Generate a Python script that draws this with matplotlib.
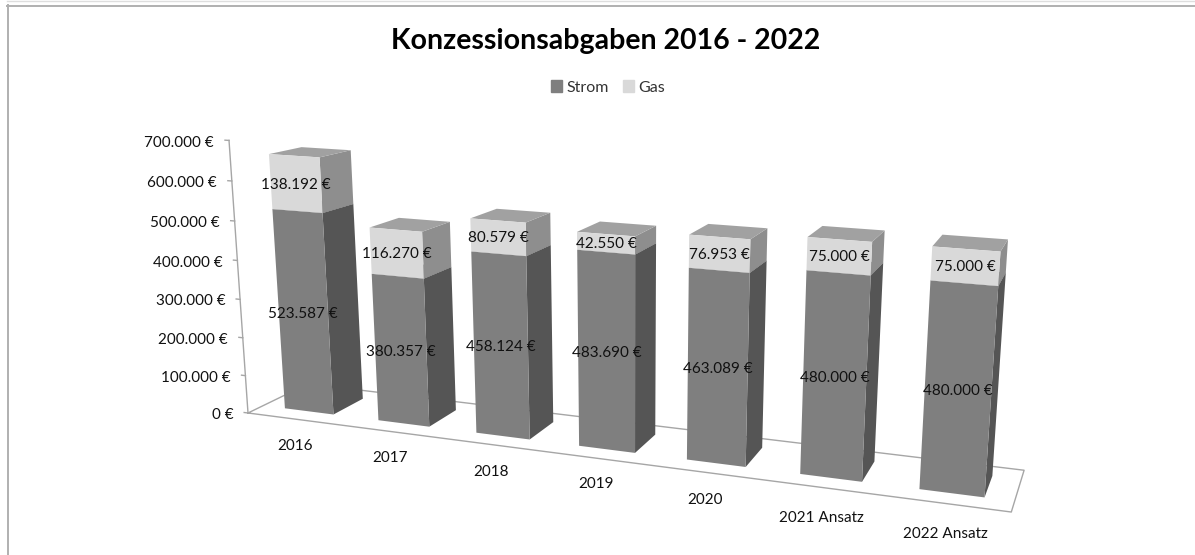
import numpy as np
import matplotlib
matplotlib.use('Agg')
import matplotlib.pyplot as plt
from matplotlib.patches import Patch

plt.rcParams['font.family'] = ['Lato', 'DejaVu Sans']

# Values
categories = ['2016', '2017', '2018', '2019', '2020', '2021 Ansatz', '2022 Ansatz']
strom = [523587, 380357, 458124, 483690, 463089, 480000, 480000]
gas = [138192, 116270, 80579, 42550, 76953, 75000, 75000]
y_ticks = [0, 100000, 200000, 300000, 400000, 500000, 600000, 700000]
y_max = 700000

# Excel puts the category labels a bit unevenly, so they get their own pixel spots
cat_label_xy = [(295, 446.5), (390, 457.5), (491, 471.5), (596, 484.5), (705, 499.5), (821, 517.5), (945, 533.5)]

# Camera for the fake 3D: u along categories, v up (value / y_max), w into depth.
CAMERA = np.array([
    [601.5, -29.77, 81.2, 248.0],
    [17.1, -279.2, -2.75, 413.0],
    [-0.16, -0.0471, 0.0688, 1.0],
])

BAR_WIDTH = 0.075   # share of the u range
BAR_FRONT = 0.243
BAR_BACK = 0.764

GAS_COLORS = {'front': '#d9d9d9', 'side': '#8e8e8e', 'top': '#a1a1a1'}
STROM_COLORS = {'front': '#7f7f7f', 'side': '#555555', 'top': '#6a6a6a'}
LINE_COLOR = '#a6a6a6'
TEXT_COLOR = '#111111'
LABEL_SIZE = 11


def project(u, value, w):
    p = CAMERA @ np.array([u, value / y_max, w, 1.0])
    return p[0] / p[2], p[1] / p[2]


def euro(value):
    return f'{value:,.0f} €'.replace(',', '.')


def draw_block(ax, u0, u1, low, high, colors):
    front = [project(u0, low, BAR_FRONT), project(u1, low, BAR_FRONT),
             project(u1, high, BAR_FRONT), project(u0, high, BAR_FRONT)]
    side = [project(u1, low, BAR_FRONT), project(u1, low, BAR_BACK),
            project(u1, high, BAR_BACK), project(u1, high, BAR_FRONT)]
    top = [project(u0, high, BAR_FRONT), project(u1, high, BAR_FRONT),
           project(u1, high, BAR_BACK), project(u0, high, BAR_BACK)]
    ax.fill(*zip(*side), color=colors['side'], lw=0, zorder=3)
    ax.fill(*zip(*top), color=colors['top'], lw=0, zorder=3)
    ax.fill(*zip(*front), color=colors['front'], lw=0, zorder=3)


def label_block(ax, uc, low, high, text):
    x, y = project(uc, (low + high) / 2, BAR_FRONT)
    ax.text(x, y + 1, text, ha='center', va='center', fontsize=LABEL_SIZE, color=TEXT_COLOR, zorder=5)


fig = plt.figure(figsize=(11.95, 5.55), dpi=100)
ax = fig.add_axes([0, 0, 1, 1])
ax.set_xlim(0, 1195)
ax.set_ylim(555, 0)
ax.axis('off')

# Screenshot frame
ax.plot([7, 1195], [0.5, 0.5], color='#dedede', lw=1)
ax.plot([7, 1195], [6, 6], color='#b0b0b0', lw=1.4)
ax.plot([8, 8], [5, 555], color='#b0b0b0', lw=1.4)

# Floor outline
corners = [project(0, 0, 0), project(1, 0, 0), project(1, 0, 1), project(0, 0, 1), project(0, 0, 0)]
ax.plot(*zip(*corners), color=LINE_COLOR, lw=1, zorder=1)

# Value axis with ticks
ax.plot(*zip(project(0, 0, 0), project(0, y_max, 0)), color=LINE_COLOR, lw=1, zorder=1)
for t in y_ticks:
    tx, ty = project(-0.006, t, 0)
    ax.plot(*zip((tx, ty), project(0, t, 0)), color=LINE_COLOR, lw=1, zorder=1)
    ax.text(tx - 11, ty + 2.5, euro(t), ha='right', va='center', fontsize=LABEL_SIZE, color=TEXT_COLOR)

# Bars, left to right
n = len(categories)
for i in range(n):
    uc = (i + 0.5) / n
    u0, u1 = uc - BAR_WIDTH / 2, uc + BAR_WIDTH / 2
    total = strom[i] + gas[i]
    draw_block(ax, u0, u1, 0, strom[i], STROM_COLORS)
    draw_block(ax, u0, u1, strom[i], total, GAS_COLORS)
    label_block(ax, uc, 0, strom[i], euro(strom[i]))
    label_block(ax, uc, strom[i], total, euro(gas[i]))

for name, (x, y) in zip(categories, cat_label_xy):
    ax.text(x, y, name, ha='center', va='center', fontsize=LABEL_SIZE, color=TEXT_COLOR)

ax.text(606, 41, 'Konzessionsabgaben 2016 - 2022', ha='center', va='center',
        fontsize=20.5, fontweight='bold', color='black')

handles = [Patch(color=STROM_COLORS['front'], label='Strom'), Patch(color=GAS_COLORS['front'], label='Gas')]
ax.legend(handles=handles, loc='center', bbox_to_anchor=(608, 87.5), bbox_transform=ax.transData,
          ncol=2, frameon=False, fontsize=11.5, handlelength=0.7, handleheight=0.7,
          handletextpad=0.3, columnspacing=0.85, labelcolor='#333333')

fig.savefig('out.png', dpi=100)
